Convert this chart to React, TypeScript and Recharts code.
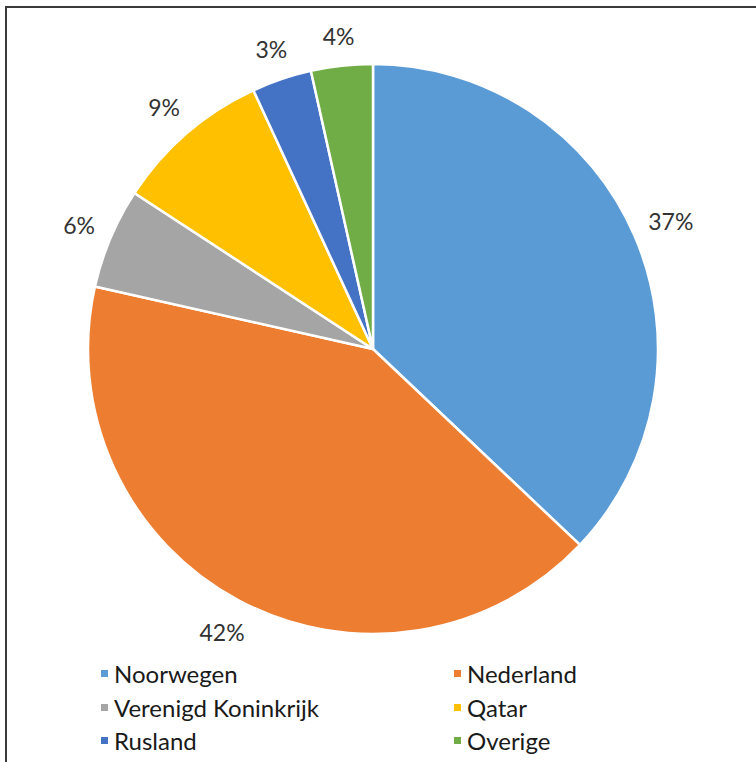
import { PieChart, Pie, Cell, Legend } from 'recharts'

const countries = ['Noorwegen', 'Nederland', 'Verenigd Koninkrijk', 'Qatar', 'Rusland', 'Overige']
const shares = [37.1, 41.5, 5.7, 8.9, 3.4, 3.5]
const colors = ['#5B9BD5', '#ED7D31', '#A5A5A5', '#FFC000', '#4472C4', '#70AD47']

const data = countries.map((name, i) => ({ name, value: shares[i] }))

const RAD = Math.PI / 180

// outside-end label, pushed out by the half size of its text box
const renderLabel = (props: any) => {
  const { cx, cy, midAngle, outerRadius, value } = props
  const txt = `${Math.round(value)}%`
  const dx = Math.cos(-midAngle * RAD)
  const dy = Math.sin(-midAngle * RAD)
  const halfW = txt.length * 5.5 + 3
  const halfH = 11
  const r = outerRadius + 17 + halfW * Math.abs(dx) + halfH * Math.abs(dy)
  return (
    <text
      x={cx + r * dx}
      y={cy + r * dy}
      fill="#333"
      fontSize={23}
      fontFamily="Lato, sans-serif"
      textAnchor="middle"
      dominantBaseline="central"
    >
      {txt}
    </text>
  )
}

const renderLegend = () => (
  <div
    style={{
      display: 'grid',
      gridTemplateColumns: '353px 250px',
      fontFamily: 'Lato, sans-serif',
      fontSize: 24,
      color: '#1a1a1a',
    }}
  >
    {countries.map((name, i) => (
      <div key={name} style={{ display: 'flex', alignItems: 'center', height: 33.5 }}>
        <span
          style={{ width: 7, height: 7, background: colors[i], display: 'inline-block', marginRight: 6 }}
        />
        <span>{name}</span>
      </div>
    ))}
  </div>
)

export default function App() {
  return (
    <div style={{ position: 'absolute', left: 0, top: 0, width: 756, height: 762, background: '#fff', overflow: 'hidden' }}>
      <div
        style={{
          position: 'absolute',
          left: 5,
          top: 6,
          width: 800,
          height: 800,
          borderLeft: '2px solid #3a3a3a',
          borderTop: '2px solid #3a3a3a',
        }}
      />
      <div style={{ position: 'absolute', left: 0, top: 0 }}>
        <PieChart width={756} height={762} margin={{ top: 0, right: 0, bottom: 0, left: 0 }}>
          <Pie
            data={data}
            dataKey="value"
            nameKey="name"
            cx={373}
            cy={349}
            outerRadius={285}
            startAngle={90}
            endAngle={-270}
            stroke="#fff"
            strokeWidth={2.5}
            label={renderLabel}
            labelLine={false}
            isAnimationActive={false}
          >
            {data.map((d, i) => (
              <Cell key={d.name} fill={colors[i]} />
            ))}
          </Pie>
          <Legend
            content={renderLegend}
            wrapperStyle={{ position: 'absolute', left: 101, top: 657, width: 620 }}
          />
        </PieChart>
      </div>
    </div>
  )
}
